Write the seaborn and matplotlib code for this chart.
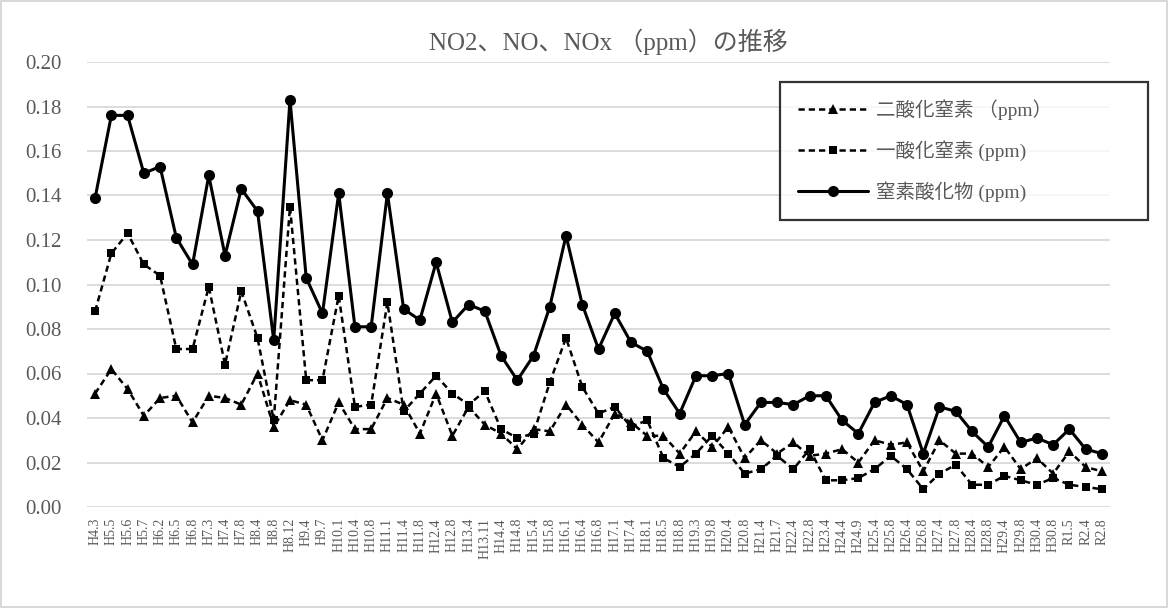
import matplotlib
matplotlib.use("Agg")
import matplotlib.pyplot as plt
import seaborn as sns
import numpy as np
import pandas as pd

labels = ["H4.3", "H5.5", "H5.6", "H5.7", "H6.2", "H6.5", "H6.8", "H7.3", "H7.4", "H7.8",
          "H8.4", "H8.8", "H8.12", "H9.4", "H9.7", "H10.1", "H10.4", "H10.8", "H11.1", "H11.4",
          "H11.8", "H12.4", "H12.8", "H13.4", "H13.11", "H14.4", "H14.8", "H15.4", "H15.8", "H16.1",
          "H16.4", "H16.8", "H17.1", "H17.4", "H18.1", "H18.5", "H18.8", "H19.3", "H19.8", "H20.4",
          "H20.8", "H21.4", "H21.7", "H22.4", "H22.8", "H23.4", "H24.4", "H24.9", "H25.4", "H25.8",
          "H26.4", "H26.8", "H27.4", "H27.8", "H28.4", "H28.8", "H29.4", "H29.8", "H30.4", "H30.8",
          "R1.5", "R2.4", "R2.8"]

no2 = [0.051, 0.062, 0.053, 0.041, 0.049, 0.050, 0.038, 0.050, 0.049, 0.046,
       0.060, 0.036, 0.048, 0.046, 0.030, 0.047, 0.035, 0.035, 0.049, 0.046,
       0.033, 0.051, 0.032, 0.045, 0.037, 0.033, 0.026, 0.035, 0.034, 0.046,
       0.037, 0.029, 0.042, 0.038, 0.032, 0.032, 0.024, 0.034, 0.027, 0.036,
       0.022, 0.030, 0.024, 0.029, 0.023, 0.024, 0.026, 0.020, 0.030, 0.028,
       0.029, 0.016, 0.030, 0.024, 0.024, 0.018, 0.027, 0.017, 0.022, 0.015,
       0.025, 0.018, 0.016]

no = [0.088, 0.114, 0.123, 0.109, 0.104, 0.071, 0.071, 0.099, 0.064, 0.097,
      0.076, 0.039, 0.135, 0.057, 0.057, 0.095, 0.045, 0.046, 0.092, 0.043,
      0.051, 0.059, 0.051, 0.046, 0.052, 0.035, 0.031, 0.033, 0.056, 0.076,
      0.054, 0.042, 0.045, 0.036, 0.039, 0.022, 0.018, 0.024, 0.032, 0.024,
      0.015, 0.017, 0.023, 0.017, 0.026, 0.012, 0.012, 0.013, 0.017, 0.023,
      0.017, 0.008, 0.015, 0.019, 0.010, 0.010, 0.014, 0.012, 0.010, 0.013,
      0.010, 0.009, 0.008]

nox = [0.139, 0.176, 0.176, 0.150, 0.153, 0.121, 0.109, 0.149, 0.113, 0.143,
       0.133, 0.075, 0.183, 0.103, 0.087, 0.141, 0.081, 0.081, 0.141, 0.089,
       0.084, 0.110, 0.083, 0.091, 0.088, 0.068, 0.057, 0.068, 0.090, 0.122,
       0.091, 0.071, 0.087, 0.074, 0.070, 0.053, 0.042, 0.059, 0.059, 0.060,
       0.037, 0.047, 0.047, 0.046, 0.050, 0.050, 0.039, 0.033, 0.047, 0.050,
       0.046, 0.024, 0.045, 0.043, 0.034, 0.027, 0.041, 0.029, 0.031, 0.028,
       0.035, 0.026, 0.024]

series_names = ["二酸化窒素 （ppm）", "一酸化窒素 (ppm)", "窒素酸化物 (ppm)"]
title = "NO2、NO、NOx （ppm）の推移"

sns.set_theme(style="white")
fam = ["Liberation Serif", "Noto Sans CJK JP", "DejaVu Sans"]
plt.rcParams["font.family"] = fam

fig = plt.figure(figsize=(11.68, 6.08), dpi=100, linewidth=1.5, edgecolor="#d9d9d9")
ax = fig.add_axes([87 / 1168, 1 - 507 / 608, 1023 / 1168, 445 / 608])

x = np.arange(len(labels))
df = pd.DataFrame({"x": x, "no2": no2, "no": no, "nox": nox})

dash = (0, (2.5, 1.6))
sns.lineplot(data=df, x="x", y="no2", ax=ax, color="black", linestyle=dash,
             linewidth=1.8, marker="^", markersize=7.5, markeredgewidth=0, label=series_names[0])
sns.lineplot(data=df, x="x", y="no", ax=ax, color="black", linestyle=dash,
             linewidth=1.8, marker="s", markersize=6, markeredgewidth=0, label=series_names[1])
sns.lineplot(data=df, x="x", y="nox", ax=ax, color="black", linestyle="-",
             linewidth=2.2, marker="o", markersize=8, markeredgewidth=0, label=series_names[2])

ax.set_xlim(-0.5, len(labels) - 0.5)
ax.set_ylim(0, 0.20)
yt = np.arange(0, 0.201, 0.02)
ax.set_yticks(yt)
ax.set_yticklabels([f"{v:.2f}" for v in yt], fontsize=15, color="#595959")
ax.set_xticks(x)
ax.set_xticklabels(labels, rotation=90, fontsize=10, color="#595959")
ax.tick_params(axis="both", length=0)
ax.tick_params(axis="x", pad=8)
ax.tick_params(axis="y", pad=18)
ax.grid(axis="y", color="#d9d9d9", linewidth=1.3)
ax.grid(axis="x", visible=False)
for s in ax.spines.values():
    s.set_visible(False)
ax.set_xlabel("")
ax.set_ylabel("")

fig.text(608 / 1168, 1 - 42 / 608, title, ha="center", va="center", fontsize=18, color="#595959")

leg = ax.legend(loc="upper left", bbox_to_anchor=(780 / 1168, 1 - 217 / 608, 368 / 1168, 135 / 608),
                bbox_transform=fig.transFigure, mode="expand", borderaxespad=0,
                fontsize=14, labelspacing=1.05, handlelength=3.6, handletextpad=0.45,
                borderpad=0.9, frameon=True, fancybox=False)
leg.get_frame().set_edgecolor("black")
leg.get_frame().set_linewidth(1.6)
for t in leg.get_texts():
    t.set_color("#595959")

fig.savefig("out.png", dpi=100)
